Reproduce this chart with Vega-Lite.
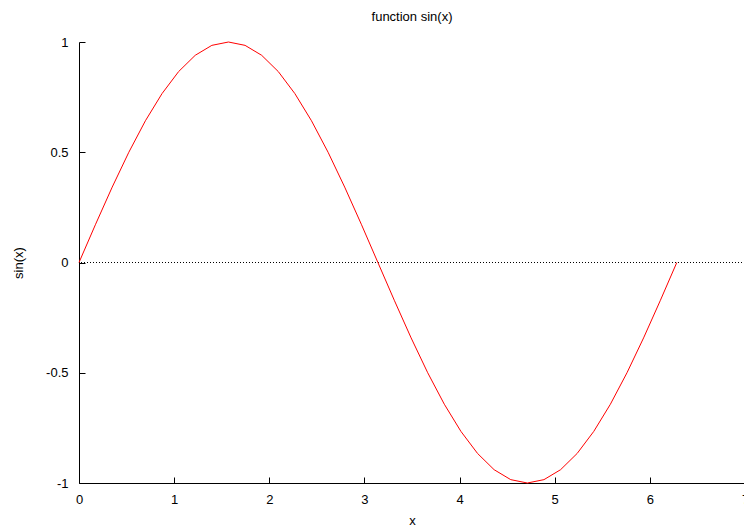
{
  "$schema": "https://vega.github.io/schema/vega-lite/v6.json",
  "width": 666,
  "height": 441,
  "autosize": {"type": "none"},
  "padding": {"left": 79, "top": 42, "right": 0, "bottom": 42},
  "background": "white",
  "config": {
    "view": {"stroke": null},
    "font": "Liberation Sans",
    "axis": {
      "domainColor": "black",
      "tickColor": "black",
      "labelColor": "black",
      "titleColor": "black",
      "labelFont": "Liberation Sans",
      "titleFont": "Liberation Sans",
      "labelFontSize": 13,
      "titleFontSize": 13,
      "titleFontWeight": "normal",
      "grid": false,
      "tickSize": -6,
      "labelFlush": false,
      "labelOverlap": false,
      "labelExpr": "toString(datum.value)"
    }
  },
  "title": {
    "text": "function sin(x)",
    "font": "Liberation Sans",
    "fontSize": 13,
    "fontWeight": "normal",
    "color": "black",
    "anchor": "middle",
    "offset": 12
  },
  "data": {
    "values": [
      {"x": 0, "y": 0},
      {"x": 0.1745, "y": 0.1736},
      {"x": 0.3491, "y": 0.342},
      {"x": 0.5236, "y": 0.5},
      {"x": 0.6981, "y": 0.6428},
      {"x": 0.8727, "y": 0.766},
      {"x": 1.0472, "y": 0.866},
      {"x": 1.2217, "y": 0.9397},
      {"x": 1.3963, "y": 0.9848},
      {"x": 1.5708, "y": 1},
      {"x": 1.7453, "y": 0.9848},
      {"x": 1.9199, "y": 0.9397},
      {"x": 2.0944, "y": 0.866},
      {"x": 2.2689, "y": 0.766},
      {"x": 2.4435, "y": 0.6428},
      {"x": 2.618, "y": 0.5},
      {"x": 2.7925, "y": 0.342},
      {"x": 2.9671, "y": 0.1736},
      {"x": 3.1416, "y": 0},
      {"x": 3.3161, "y": -0.1736},
      {"x": 3.4907, "y": -0.342},
      {"x": 3.6652, "y": -0.5},
      {"x": 3.8397, "y": -0.6428},
      {"x": 4.0143, "y": -0.766},
      {"x": 4.1888, "y": -0.866},
      {"x": 4.3633, "y": -0.9397},
      {"x": 4.5379, "y": -0.9848},
      {"x": 4.7124, "y": -1},
      {"x": 4.8869, "y": -0.9848},
      {"x": 5.0615, "y": -0.9397},
      {"x": 5.236, "y": -0.866},
      {"x": 5.4105, "y": -0.766},
      {"x": 5.5851, "y": -0.6428},
      {"x": 5.7596, "y": -0.5},
      {"x": 5.9341, "y": -0.342},
      {"x": 6.1087, "y": -0.1736},
      {"x": 6.2832, "y": 0}
    ]
  },
  "layer": [
    {
      "mark": {"type": "rule", "color": "black", "strokeWidth": 1, "strokeDash": [1, 2]},
      "encoding": {"y": {"datum": 0, "type": "quantitative"}}
    },
    {
      "mark": {"type": "line", "color": "#ff0000", "strokeWidth": 1},
      "encoding": {
        "x": {
          "field": "x",
          "type": "quantitative",
          "scale": {"domain": [0, 7], "nice": false, "zero": false},
          "axis": {"title": "x", "values": [0, 1, 2, 3, 4, 5, 6, 7], "labelPadding": 16, "titlePadding": 8}
        },
        "y": {
          "field": "y",
          "type": "quantitative",
          "scale": {"domain": [-1, 1], "nice": false, "zero": false},
          "axis": {"title": "sin(x)", "values": [-1, -0.5, 0, 0.5, 1], "labelPadding": 17, "titlePadding": 20}
        }
      }
    }
  ]
}
